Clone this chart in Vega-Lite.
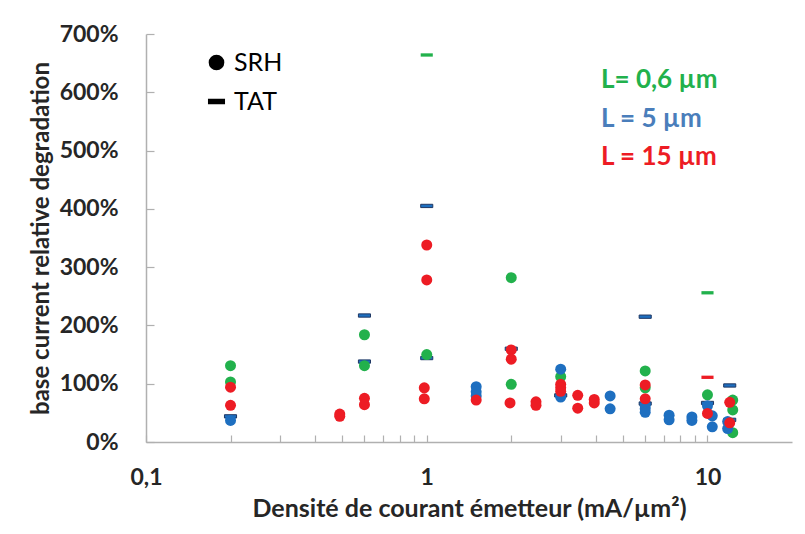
{
  "$schema": "https://vega.github.io/schema/vega-lite/v6.json",
  "width": 646,
  "height": 408,
  "autosize": "none",
  "padding": {"left": 146, "top": 34, "right": 13, "bottom": 92},
  "background": "white",
  "config": {"view": {"stroke": null}, "font": "Lato"},
  "data": {
    "values": [
      {"J": 0.2, "deg": 0.44, "L": "L = 5 µm", "mech": "TAT"},
      {"J": 0.6, "deg": 2.17, "L": "L = 5 µm", "mech": "TAT"},
      {"J": 0.6, "deg": 1.38, "L": "L = 5 µm", "mech": "TAT"},
      {"J": 1, "deg": 1.44, "L": "L = 5 µm", "mech": "TAT"},
      {"J": 1, "deg": 4.05, "L": "L = 5 µm", "mech": "TAT"},
      {"J": 2, "deg": 1.6, "L": "L = 5 µm", "mech": "TAT"},
      {"J": 3, "deg": 0.8, "L": "L = 5 µm", "mech": "TAT"},
      {"J": 6, "deg": 2.15, "L": "L = 5 µm", "mech": "TAT"},
      {"J": 6, "deg": 0.66, "L": "L = 5 µm", "mech": "TAT"},
      {"J": 10, "deg": 0.67, "L": "L = 5 µm", "mech": "TAT"},
      {"J": 12, "deg": 0.97, "L": "L = 5 µm", "mech": "TAT"},
      {"J": 12, "deg": 0.38, "L": "L = 5 µm", "mech": "TAT"},
      {"J": 1, "deg": 6.64, "L": "L= 0,6 µm", "mech": "TAT"},
      {"J": 10, "deg": 2.56, "L": "L= 0,6 µm", "mech": "TAT"},
      {"J": 10, "deg": 1.11, "L": "L = 15 µm", "mech": "TAT"},

      {"J": 0.2, "deg": 1.31, "L": "L= 0,6 µm", "mech": "SRH"},
      {"J": 0.2, "deg": 1.03, "L": "L= 0,6 µm", "mech": "SRH"},
      {"J": 0.6, "deg": 1.84, "L": "L= 0,6 µm", "mech": "SRH"},
      {"J": 0.6, "deg": 1.31, "L": "L= 0,6 µm", "mech": "SRH"},
      {"J": 1, "deg": 1.5, "L": "L= 0,6 µm", "mech": "SRH"},
      {"J": 2, "deg": 2.82, "L": "L= 0,6 µm", "mech": "SRH"},
      {"J": 2, "deg": 0.99, "L": "L= 0,6 µm", "mech": "SRH"},
      {"J": 3, "deg": 1.12, "L": "L= 0,6 µm", "mech": "SRH"},
      {"J": 6, "deg": 1.22, "L": "L= 0,6 µm", "mech": "SRH"},
      {"J": 6, "deg": 0.93, "L": "L= 0,6 µm", "mech": "SRH"},
      {"J": 10, "deg": 0.81, "L": "L= 0,6 µm", "mech": "SRH"},
      {"J": 12.3, "deg": 0.72, "L": "L= 0,6 µm", "mech": "SRH"},
      {"J": 12.3, "deg": 0.55, "L": "L= 0,6 µm", "mech": "SRH"},
      {"J": 12.3, "deg": 0.16, "L": "L= 0,6 µm", "mech": "SRH"},

      {"J": 0.2, "deg": 0.37, "L": "L = 5 µm", "mech": "SRH"},
      {"J": 1.5, "deg": 0.95, "L": "L = 5 µm", "mech": "SRH"},
      {"J": 1.5, "deg": 0.86, "L": "L = 5 µm", "mech": "SRH"},
      {"J": 1.5, "deg": 0.79, "L": "L = 5 µm", "mech": "SRH"},
      {"J": 3, "deg": 1.25, "L": "L = 5 µm", "mech": "SRH"},
      {"J": 3, "deg": 0.77, "L": "L = 5 µm", "mech": "SRH"},
      {"J": 4.5, "deg": 0.79, "L": "L = 5 µm", "mech": "SRH"},
      {"J": 4.5, "deg": 0.57, "L": "L = 5 µm", "mech": "SRH"},
      {"J": 6, "deg": 0.62, "L": "L = 5 µm", "mech": "SRH"},
      {"J": 6, "deg": 0.57, "L": "L = 5 µm", "mech": "SRH"},
      {"J": 6, "deg": 0.51, "L": "L = 5 µm", "mech": "SRH"},
      {"J": 7.3, "deg": 0.46, "L": "L = 5 µm", "mech": "SRH"},
      {"J": 7.3, "deg": 0.38, "L": "L = 5 µm", "mech": "SRH"},
      {"J": 8.8, "deg": 0.43, "L": "L = 5 µm", "mech": "SRH"},
      {"J": 8.8, "deg": 0.37, "L": "L = 5 µm", "mech": "SRH"},
      {"J": 10, "deg": 0.62, "L": "L = 5 µm", "mech": "SRH"},
      {"J": 10.4, "deg": 0.45, "L": "L = 5 µm", "mech": "SRH"},
      {"J": 10.4, "deg": 0.26, "L": "L = 5 µm", "mech": "SRH"},
      {"J": 11.8, "deg": 0.35, "L": "L = 5 µm", "mech": "SRH"},
      {"J": 11.8, "deg": 0.23, "L": "L = 5 µm", "mech": "SRH"},

      {"J": 0.2, "deg": 0.94, "L": "L = 15 µm", "mech": "SRH"},
      {"J": 0.2, "deg": 0.63, "L": "L = 15 µm", "mech": "SRH"},
      {"J": 0.49, "deg": 0.48, "L": "L = 15 µm", "mech": "SRH"},
      {"J": 0.49, "deg": 0.44, "L": "L = 15 µm", "mech": "SRH"},
      {"J": 0.6, "deg": 0.75, "L": "L = 15 µm", "mech": "SRH"},
      {"J": 0.6, "deg": 0.64, "L": "L = 15 µm", "mech": "SRH"},
      {"J": 1, "deg": 3.38, "L": "L = 15 µm", "mech": "SRH"},
      {"J": 1, "deg": 2.78, "L": "L = 15 µm", "mech": "SRH"},
      {"J": 0.98, "deg": 0.93, "L": "L = 15 µm", "mech": "SRH"},
      {"J": 0.98, "deg": 0.74, "L": "L = 15 µm", "mech": "SRH"},
      {"J": 1.5, "deg": 0.72, "L": "L = 15 µm", "mech": "SRH"},
      {"J": 2, "deg": 1.58, "L": "L = 15 µm", "mech": "SRH"},
      {"J": 2, "deg": 1.42, "L": "L = 15 µm", "mech": "SRH"},
      {"J": 1.98, "deg": 0.67, "L": "L = 15 µm", "mech": "SRH"},
      {"J": 2.45, "deg": 0.69, "L": "L = 15 µm", "mech": "SRH"},
      {"J": 2.45, "deg": 0.63, "L": "L = 15 µm", "mech": "SRH"},
      {"J": 3, "deg": 0.99, "L": "L = 15 µm", "mech": "SRH"},
      {"J": 3, "deg": 0.93, "L": "L = 15 µm", "mech": "SRH"},
      {"J": 3, "deg": 0.87, "L": "L = 15 µm", "mech": "SRH"},
      {"J": 3.45, "deg": 0.8, "L": "L = 15 µm", "mech": "SRH"},
      {"J": 3.45, "deg": 0.58, "L": "L = 15 µm", "mech": "SRH"},
      {"J": 3.95, "deg": 0.73, "L": "L = 15 µm", "mech": "SRH"},
      {"J": 3.95, "deg": 0.67, "L": "L = 15 µm", "mech": "SRH"},
      {"J": 6, "deg": 0.98, "L": "L = 15 µm", "mech": "SRH"},
      {"J": 6, "deg": 0.74, "L": "L = 15 µm", "mech": "SRH"},
      {"J": 10, "deg": 0.49, "L": "L = 15 µm", "mech": "SRH"},
      {"J": 12, "deg": 0.68, "L": "L = 15 µm", "mech": "SRH"},
      {"J": 12, "deg": 0.33, "L": "L = 15 µm", "mech": "SRH"}
    ]
  },
  "mark": {"type": "point", "filled": true, "opacity": 1, "strokeWidth": 1},
  "encoding": {
    "x": {
      "field": "J",
      "type": "quantitative",
      "scale": {"type": "log", "domain": [0.1, 20], "nice": false},
      "axis": {
        "title": "Densité de courant émetteur (mA/µm²)",
        "values": [0.1, 0.2, 0.3, 0.4, 0.5, 0.6, 0.7, 0.8, 0.9, 1, 2, 3, 4, 5, 6, 7, 8, 9, 10],
        "labelExpr": "datum.value == 0.1 ? '0,1' : datum.value == 1 ? '1' : datum.value == 10 ? '10' : ''",
        "grid": false,
        "tickSize": -7,
        "labelPadding": 31,
        "labelFontSize": 23,
        "labelFontWeight": "bold",
        "labelColor": "#262626",
        "labelFlush": false,
        "labelOverlap": false,
        "domainColor": "#b0b0b0",
        "domainWidth": 1.5,
        "tickColor": "#b0b0b0",
        "tickWidth": 1.2,
        "titleFontSize": 25,
        "titleFontWeight": "bold",
        "titleColor": "#262626",
        "titlePadding": 7
      }
    },
    "y": {
      "field": "deg",
      "type": "quantitative",
      "scale": {"domain": [0, 7], "nice": false},
      "axis": {
        "title": "base current relative degradation",
        "values": [0, 1, 2, 3, 4, 5, 6, 7],
        "format": ".0%",
        "grid": false,
        "tickSize": -8,
        "labelPadding": 36,
        "labelFontSize": 23,
        "labelFontWeight": "bold",
        "labelColor": "#262626",
        "domainColor": "#b0b0b0",
        "domainWidth": 1.5,
        "tickColor": "#b0b0b0",
        "tickWidth": 1.2,
        "titleFontSize": 24,
        "titleFontWeight": "bold",
        "titleColor": "#262626",
        "titlePadding": 6
      }
    },
    "color": {
      "field": "L",
      "type": "nominal",
      "scale": {
        "domain": ["L= 0,6 µm", "L = 5 µm", "L = 15 µm"],
        "range": ["#22B14C", "#1E6FC0", "#ED1C24"]
      },
      "legend": {
        "orient": "none",
        "legendX": 429,
        "legendY": 33,
        "title": null,
        "labelFontSize": 26,
        "labelFontWeight": "bold",
        "labelFont": "Lato",
        "labelColor": {"expr": "datum.value == 'L= 0,6 µm' ? '#22B14C' : datum.value == 'L = 5 µm' ? '#4A7EBB' : '#ED1C24'"},
        "symbolOpacity": 0,
        "symbolSize": 0,
        "symbolStrokeWidth": 0,
        "labelOffset": 0,
        "rowPadding": 12.5
      }
    },
    "shape": {
      "field": "mech",
      "type": "nominal",
      "scale": {
        "domain": ["SRH", "TAT"],
        "range": ["circle", "M-1.1,-0.3H1.1V0.3H-1.1Z"]
      },
      "legend": {
        "orient": "none",
        "legendX": 58,
        "legendY": 16,
        "title": null,
        "labelFontSize": 25,
        "labelFont": "Lato",
        "labelColor": "#000000",
        "symbolSize": 200,
        "symbolFillColor": "#000000",
        "symbolStrokeColor": "#000000",
        "rowPadding": 13,
        "labelOffset": 5
      }
    },
    "size": {"value": 121},
    "stroke": {
      "condition": {"test": "datum.mech == 'TAT' && datum.L == 'L = 5 µm'", "value": "#1F3864"},
      "value": "transparent"
    }
  }
}
